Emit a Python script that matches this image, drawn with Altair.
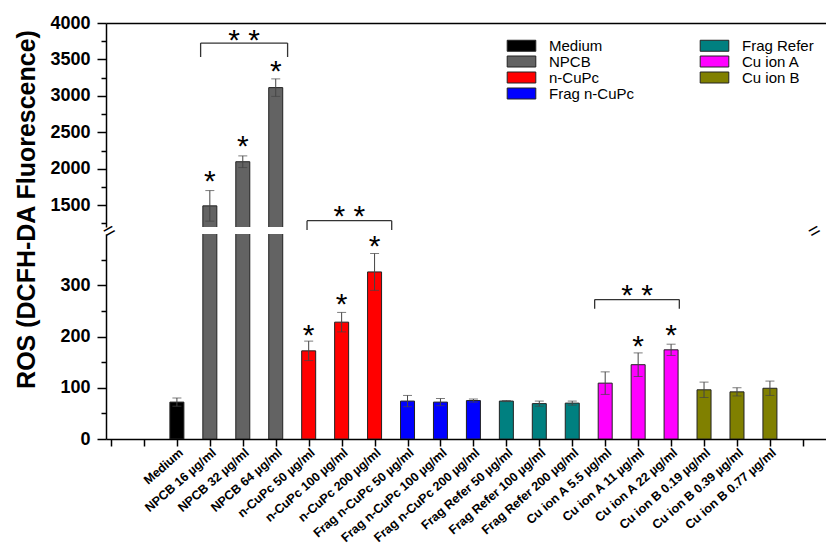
import json
import altair as alt
import pandas as pd

categories = [
    "Medium", "NPCB 16 µg/ml", "NPCB 32 µg/ml", "NPCB 64 µg/ml",
    "n-CuPc 50 µg/ml", "n-CuPc 100 µg/ml", "n-CuPc 200 µg/ml",
    "Frag n-CuPc 50 µg/ml", "Frag n-CuPc 100 µg/ml", "Frag n-CuPc  200 µg/ml",
    "Frag Refer 50 µg/ml", "Frag Refer 100 µg/ml", "Frag Refer 200 µg/ml",
    "Cu ion A 5.5 µg/ml", "Cu ion A 11 µg/ml", "Cu ion A 22 µg/ml",
    "Cu ion B 0.19 µg/ml", "Cu ion B 0.39 µg/ml", "Cu ion B  0.77 µg/ml",
]
groups = [
    "Medium", "NPCB", "NPCB", "NPCB",
    "n-CuPc", "n-CuPc", "n-CuPc",
    "Frag n-CuPc", "Frag n-CuPc", "Frag n-CuPc",
    "Frag Refer", "Frag Refer", "Frag Refer",
    "Cu ion A", "Cu ion A", "Cu ion A",
    "Cu ion B", "Cu ion B", "Cu ion B",
]
values = [72, 1490, 2096, 3113, 172, 228, 326, 74, 72, 75, 74, 69, 70, 109, 145, 174, 96, 92, 99]
errors = [8, 210, 80, 120, 19, 19, 36, 11, 7, 3, 1, 5, 4, 22, 23, 11, 15, 8, 14]

legend_order = ["Medium", "NPCB", "n-CuPc", "Frag n-CuPc", "Frag Refer", "Cu ion A", "Cu ion B"]
legend_colors = ["#000000", "#636363", "#ff0000", "#0000ff", "#008080", "#ff00ff", "#808000"]

star_categories = ["NPCB 16 µg/ml", "NPCB 32 µg/ml", "NPCB 64 µg/ml",
                   "n-CuPc 50 µg/ml", "n-CuPc 100 µg/ml", "n-CuPc 200 µg/ml",
                   "Cu ion A 11 µg/ml", "Cu ion A 22 µg/ml"]
star_levels = [1885, 2365, 3395, 210, 271, 384, 190, 210]

bracket_left = [2.72, 5.95, 14.68]
bracket_right = [5.36, 8.52, 17.25]
bracket_top = [3725, 426, 272]
bracket_foot = [3533, 408, 254]
bracket_label_y = [3817, 443, 289]
bracket_panel = ["top", "bottom", "bottom"]

top_domain = [1200, 4000]
bottom_domain = [0, 400]
x_domain = [0, 21.55]
break_x = [0, 21.4]

FONT = "Liberation Sans"

# ---------------- data tables ----------------
df = pd.DataFrame({"category": categories, "group": groups, "value": values, "error": errors})
df["pos"] = list(range(2, 2 + len(categories)))
df["lo"] = df["value"] - df["error"]
df["hi"] = df["value"] + df["error"]

pos_of = dict(zip(categories, df["pos"]))
stars = pd.DataFrame({"pos": [pos_of[c] for c in star_categories], "y": star_levels, "t": "*"})
stars_top = stars[stars["y"] > bottom_domain[1]]
stars_bot = stars[stars["y"] <= bottom_domain[1]]

seg_rows = []
lab_rows = []
for l, r, t, f, ly, p in zip(bracket_left, bracket_right, bracket_top, bracket_foot, bracket_label_y, bracket_panel):
    seg_rows += [
        {"pos": l, "x2": l, "y": f, "y2": t, "panel": p},
        {"pos": l, "x2": r, "y": t, "y2": t, "panel": p},
        {"pos": r, "x2": r, "y": t, "y2": f, "panel": p},
    ]
    lab_rows.append({"pos": (l + r) / 2, "y": ly, "t": "* *", "panel": p})
segs = pd.DataFrame(seg_rows)
labs = pd.DataFrame(lab_rows)

breaks = pd.DataFrame({"pos": break_x, "y": [bottom_domain[1]] * len(break_x), "t": "="})

label_list = ["", ""] + categories + [""] * 3
x_label_expr = json.dumps(label_list, ensure_ascii=False) + "[datum.value]"

# ---------------- encodings ----------------
x_scale = alt.Scale(domain=x_domain, nice=False, zero=False)
x_top = alt.X("pos:Q", scale=x_scale,
              axis=alt.Axis(orient="top", labels=False, ticks=False, title=None, domain=True))
x_bot = alt.X("pos:Q", scale=x_scale,
              axis=alt.Axis(values=list(range(0, 22)), labelExpr=x_label_expr, labelAngle=-41,
                            labelFontSize=12.5, labelAlign="right", labelBaseline="top",
                            tickSize=7, labelPadding=0, title=None, labelOverlap=False))

top_axis = alt.Axis(values=list(range(1250, 4001, 250)), format="d",
                    labelExpr="datum.value % 500 === 0 ? datum.label : ''",
                    tickSize={"condition": {"test": "datum.value % 500 === 0", "value": 9}, "value": 5},
                    labelPadding=7, labelFontSize=18, title=None, labelOverlap=False)
bot_axis = alt.Axis(values=list(range(0, 351, 50)), format="d",
                    labelExpr="datum.value % 100 === 0 ? datum.label : ''",
                    tickSize={"condition": {"test": "datum.value % 100 === 0", "value": 9}, "value": 5},
                    labelPadding=7, labelFontSize=18, labelOverlap=False,
                    title="ROS (DCFH-DA Fluorescence)", titleFontSize=25, titleFont=FONT,
                    titleFontWeight="bold", titleAngle=270, titleAlign="center",
                    titleBaseline="middle", titleX=-80, titleY=-25, titleColor="black")

y_top_scale = alt.Scale(domain=top_domain, nice=False, zero=False)
y_bot_scale = alt.Scale(domain=bottom_domain, nice=False, zero=False)

color_scale = alt.Scale(domain=legend_order, range=legend_colors)
legend = alt.Legend(orient="none", legendX=408, legendY=15, columns=2, title=None,
                    symbolType="M-2.6,-1H2.6V1H-2.6Z", symbolSize=121,
                    symbolStrokeColor="#222", symbolStrokeWidth=1, symbolOpacity=1,
                    labelFont=FONT, labelFontSize=15, labelColor="black", labelOffset=20,
                    rowPadding=0, columnPadding=63)


def panel(xenc, yaxis, yscale, color_legend, star_df, seg_df, lab_df, extra=None, h=200):
    bars = alt.Chart(df).mark_bar(size=14, stroke="#222", strokeWidth=1, clip=True).encode(
        x=xenc,
        y=alt.Y("value:Q", scale=yscale, axis=yaxis),
        color=alt.Color("group:N", scale=color_scale, legend=color_legend),
    )
    err = alt.Chart(df).mark_errorbar(ticks={"size": 9}, clip=True, color="#444", thickness=1).encode(
        x=xenc,
        y=alt.Y("lo:Q", scale=yscale, axis=yaxis),
        y2="hi:Q",
    )
    st = alt.Chart(star_df).mark_text(font=FONT, fontSize=30, dy=14, baseline="alphabetic",
                                      color="black").encode(
        x=xenc, y=alt.Y("y:Q", scale=yscale, axis=yaxis), text="t:N")
    br = alt.Chart(seg_df).mark_rule(color="#333", strokeWidth=1.3).encode(
        x=xenc, x2="x2:Q",
        y=alt.Y("y:Q", scale=yscale, axis=yaxis), y2="y2:Q")
    bl = alt.Chart(lab_df).mark_text(font=FONT, fontSize=30, dy=14, baseline="alphabetic",
                                     color="black").encode(
        x=xenc, y=alt.Y("y:Q", scale=yscale, axis=yaxis), text="t:N")
    layers = [bars, err, st, br, bl]
    if extra is not None:
        layers.append(extra)
    return alt.layer(*layers).properties(width=720, height=h)


brk = alt.Chart(breaks).mark_text(font=FONT, fontSize=20, angle=330, dy=-3, color="black").encode(
    x=x_bot, y=alt.Y("y:Q", scale=y_bot_scale, axis=bot_axis), text="t:N")

top = panel(x_top, top_axis, y_top_scale, legend, stars_top,
            segs[segs["panel"] == "top"], labs[labs["panel"] == "top"], h=204)
bottom = panel(x_bot, bot_axis, y_bot_scale, None, stars_bot,
               segs[segs["panel"] == "bottom"], labs[labs["panel"] == "bottom"], extra=brk, h=205)

chart = (
    alt.vconcat(top, bottom, spacing=7, bounds="flush")
    .resolve_scale(color="independent", y="independent")
    .properties(padding={"left": 5, "top": 6, "right": 0, "bottom": 0})
    .configure_view(stroke=None)
    .configure_axis(labelFont=FONT, labelFontWeight="bold", labelColor="black",
                    domainColor="black", domainWidth=1.5, tickColor="black", tickWidth=1.5,
                    grid=False)
)

chart.save("out.html", embed_options={"renderer": "svg", "actions": False})
